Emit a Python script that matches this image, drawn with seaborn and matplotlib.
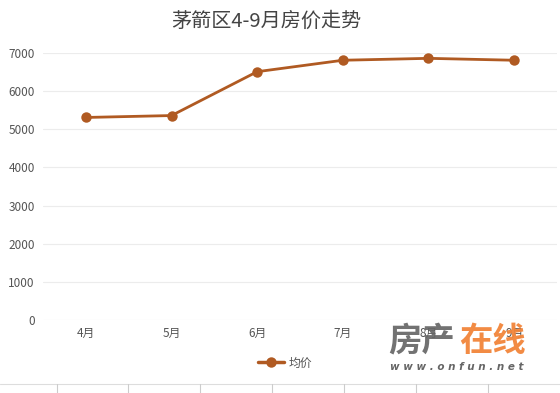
import pandas as pd
import numpy as np
import matplotlib
matplotlib.use('Agg')
import matplotlib.pyplot as plt
from matplotlib.lines import Line2D
import seaborn as sns

months = ['4月', '5月', '6月', '7月', '8月', '9月']
avg_price = [5310, 5360, 6510, 6810, 6860, 6810]
y_ticks = [0, 1000, 2000, 3000, 4000, 5000, 6000, 7000]

df = pd.DataFrame({'month': months, 'price': avg_price})

sns.set_style('white')
plt.rcParams['font.family'] = ['Noto Sans CJK SC', 'DejaVu Sans']

line_color = '#b05a22'

fig = plt.figure(figsize=(5.6, 3.93), dpi=100)
ax = fig.add_axes([43 / 560, 1 - 320 / 393, 514 / 560, (320 - 53) / 393])

sns.lineplot(data=df, x='month', y='price', ax=ax, color=line_color,
             marker='o', markersize=7.5, markeredgewidth=0, linewidth=2,
             sort=False, label='均价')

ax.set_xlim(-0.5, len(months) - 0.5)
ax.set_ylim(0, 7000)
ax.set_yticks(y_ticks)
ax.set_yticklabels([str(v) for v in y_ticks])
ax.grid(axis='y', color='#ececec', linewidth=0.8)
ax.set_axisbelow(True)
for s in ax.spines.values():
    s.set_visible(False)
ax.tick_params(axis='both', length=0, labelsize=8.5, colors='#555555')
ax.tick_params(axis='y', pad=6)
ax.tick_params(axis='x', pad=5)
ax.set_xlabel('')
ax.set_ylabel('')
ax.get_legend().remove()

fig.text(266 / 560, 1 - 21 / 393, '茅箭区4-9月房价走势', ha='center', va='center',
         fontsize=14.5, color='#444444')

handle = Line2D([0], [0], color=line_color, marker='o', markersize=7.5,
                markeredgewidth=0, linewidth=2.5)
fig.legend([handle], ['均价'], loc='center', bbox_to_anchor=(285 / 560, 1 - 363 / 393),
           frameon=False, fontsize=8.5, labelcolor='#555555', handlelength=2.2,
           handletextpad=0.4)

# separator line with ticks at the bottom
fig.add_artist(Line2D([0, 1], [1 - 384 / 393] * 2, color='#dddddd', linewidth=0.8))
for tx in [57, 128, 200, 272, 344, 416, 488]:
    fig.add_artist(Line2D([tx / 560] * 2, [1 - 384 / 393, 0], color='#cccccc', linewidth=0.8))

# watermark (drawn over the 8月/9月 labels, like the source image)
fig.text(388 / 560, 1 - 341 / 393, '房产', fontsize=24, fontweight='bold',
         color='#666666', ha='left', va='center', alpha=0.92)
fig.text(459 / 560, 1 - 341 / 393, '在线', fontsize=24, fontweight='bold',
         color='#f2853a', ha='left', va='center', alpha=0.95)
fig.text(390 / 560, 1 - 367 / 393, 'w w w . o n f u n . n e t', fontsize=7.5,
         style='italic', fontweight='bold', color='#666666', ha='left', va='center',
         family=['DejaVu Sans'])

fig.savefig('out.png', dpi=100)
